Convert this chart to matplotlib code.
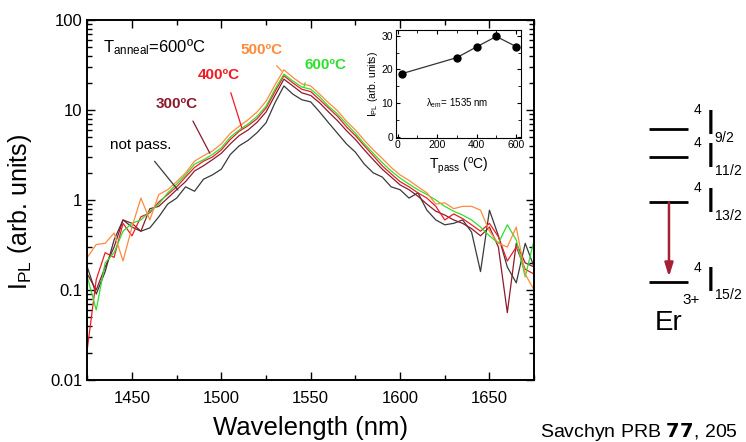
import numpy as np
import matplotlib.pyplot as plt
from matplotlib.ticker import FixedLocator, MultipleLocator, FuncFormatter, LogLocator, NullFormatter

plt.rcParams['font.family'] = ['Liberation Sans', 'DejaVu Sans']
plt.rcParams['mathtext.default'] = 'regular'

# PL spectra (5 nm steps)
wavelength = np.arange(1425, 1676, 5)

pl_not_pass = [0.18, 0.09, 0.16, 0.36, 0.6, 0.5, 0.45, 0.49, 0.65, 0.9,
               1.05, 1.4, 1.25, 1.7, 1.9, 2.2, 3.2, 4.0, 4.6, 5.6,
               7.2, 12, 18.5, 15, 13, 12.3, 9.5, 7.2, 5.5, 4.2,
               3.4, 2.5, 2.0, 1.8, 1.4, 1.3, 1.05, 1.2, 0.77, 0.6,
               0.53, 0.55, 0.6, 0.44, 0.16, 0.77, 0.4, 0.18, 0.12, 0.33, 0.18]
pl_300 = [0.15, 0.1, 0.18, 0.3, 0.6, 0.55, 0.45, 0.8, 0.85, 1.05,
          1.3, 1.6, 2.1, 2.4, 2.8, 3.3, 4.2, 5.2, 6.0, 7.3,
          9.5, 14.5, 22, 18.5, 15.5, 14.5, 12, 9.5, 7.6, 5.9,
          4.7, 3.6, 2.8, 2.2, 1.8, 1.47, 1.3, 1.1, 0.9, 0.75,
          0.68, 0.6, 0.55, 0.48, 0.4, 0.5, 0.3, 0.056, 0.33, 0.2, 0.18]
pl_400 = [0.022, 0.13, 0.26, 0.23, 0.55, 0.4, 0.65, 0.72, 0.95, 1.15,
          1.4, 1.8, 2.3, 2.7, 3.0, 3.6, 4.7, 5.8, 6.7, 8.0,
          10.5, 16, 24, 20, 17, 16, 13, 10.5, 8.5, 6.5,
          5.2, 4.0, 3.1, 2.4, 1.95, 1.6, 1.4, 1.2, 1.05, 0.85,
          0.6, 0.7, 0.62, 0.53, 0.45, 0.55, 0.39, 0.21, 0.3, 0.17, 0.15]
pl_500 = [0.23, 0.32, 0.33, 0.43, 0.21, 0.5, 1.05, 0.6, 1.15, 1.3,
          1.6, 2.0, 2.7, 3.1, 3.5, 4.2, 5.5, 6.6, 7.8, 9.5,
          12.5, 19, 28, 23, 19.5, 18.5, 15, 12, 9.8, 7.5,
          6.0, 4.6, 3.6, 2.9, 2.3, 1.9, 1.65, 1.4, 1.2, 0.9,
          0.93, 0.8, 0.85, 0.85, 0.77, 0.45, 0.33, 0.3, 0.5, 0.15, 0.1]
pl_600 = [0.14, 0.06, 0.2, 0.26, 0.45, 0.55, 0.6, 0.75, 0.9, 1.2,
          1.5, 1.9, 2.5, 2.8, 3.2, 3.8, 5.0, 6.0, 7.0, 8.5,
          11, 17, 25, 21, 18, 17, 14, 11, 9.0, 7.0,
          5.5, 4.2, 3.3, 2.6, 2.1, 1.75, 1.5, 1.3, 1.15, 1.0,
          0.85, 0.75, 0.68, 0.6, 0.5, 0.4, 0.33, 0.53, 0.36, 0.14, 0.36]

# inset: peak intensity vs passivation temperature
t_pass = [20, 300, 400, 500, 600]
i_peak = [18.7, 23.5, 26.7, 29.8, 26.8]

# Er3+ levels (cm-1)
level_names = ['15/2', '13/2', '11/2', '9/2']
level_energy = [0, 6500, 10200, 12500]

c_black = '#3a3a3a'
c_300 = '#8b1a2e'
c_400 = '#ee1c24'
c_500 = '#ff8a3c'
c_600 = '#2ee02e'

fig = plt.figure(figsize=(7.46, 4.42), dpi=100)

# main axes
ax = fig.add_axes([0.117, 0.1403, 0.599, 0.8145])
ax.plot(wavelength, pl_not_pass, color=c_black, lw=0.9)
ax.plot(wavelength, pl_300, color=c_300, lw=0.9)
ax.plot(wavelength, pl_400, color=c_400, lw=0.9)
ax.plot(wavelength, pl_600, color=c_600, lw=0.9)
ax.plot(wavelength, pl_500, color=c_500, lw=0.9)
ax.set_yscale('log')
ax.set_xlim(1425, 1675)
ax.set_ylim(0.01, 100)
ax.xaxis.set_major_locator(FixedLocator([1450, 1500, 1550, 1600, 1650]))
ax.xaxis.set_minor_locator(MultipleLocator(25))
ax.yaxis.set_major_locator(LogLocator(base=10))
ax.yaxis.set_minor_locator(LogLocator(base=10, subs=np.arange(2, 10)))
ax.yaxis.set_minor_formatter(NullFormatter())
ax.yaxis.set_major_formatter(FuncFormatter(lambda v, p: '%g' % v))
ax.tick_params(which='both', direction='in', top=True, right=True, labelsize=12, width=1)
ax.tick_params(which='major', length=6)
ax.tick_params(which='minor', length=3.5)
ax.tick_params(axis='x', pad=8)
for s in ax.spines.values():
    s.set_linewidth(1.4)
fig.text(311 / 746, 1 - 428 / 442, 'Wavelength (nm)', fontsize=18.5, ha='center', va='center')
fig.text(20 / 746, 1 - 212 / 442, 'I$_{PL}$ (arb. units)', fontsize=18, ha='center', va='center', rotation=90)

# labels with pointers
ax.text(1433.8, 50, 'T$_{anneal}$=600ºC', fontsize=12, ha='left', va='center')
ax.annotate('500ºC', xy=(1533.9, 27), xytext=(1522.3, 46.4), color=c_500, fontsize=11, fontweight='bold',
            ha='center', va='center', arrowprops=dict(arrowstyle='-', color=c_500, lw=0.9, shrinkA=6, shrinkB=0))
ax.annotate('600ºC', xy=(1546.2, 18), xytext=(1558, 31.6), color=c_600, fontsize=11, fontweight='bold',
            ha='center', va='center', arrowprops=dict(arrowstyle='-', color=c_600, lw=0.9, shrinkA=6, shrinkB=0,
                                                      relpos=(0.1, 0)))
ax.annotate('400ºC', xy=(1511.5, 6.3), xytext=(1498.7, 24.5), color=c_400, fontsize=11, fontweight='bold',
            ha='center', va='center', arrowprops=dict(arrowstyle='-', color=c_400, lw=0.9, shrinkA=6, shrinkB=0,
                                                      relpos=(0.7, 0)))
ax.annotate('300ºC', xy=(1493.6, 3.3), xytext=(1475.2, 11.7), color=c_300, fontsize=11, fontweight='bold',
            ha='center', va='center', arrowprops=dict(arrowstyle='-', color=c_300, lw=0.9, shrinkA=6, shrinkB=0,
                                                      relpos=(0.75, 0)))
ax.annotate('not pass.', xy=(1475.7, 1.29), xytext=(1455, 4.08), color='black', fontsize=11,
            ha='center', va='center', arrowprops=dict(arrowstyle='-', color=c_black, lw=0.9, shrinkA=6, shrinkB=0,
                                                      relpos=(0.6, 0)))

# inset
ins = fig.add_axes([0.5308, 0.6885, 0.1676, 0.2435])
ins.plot(t_pass, i_peak, color='#333333', lw=0.9, marker='o', ms=5, mfc='black', mec='black')
ins.set_xlim(-8, 625)
ins.set_ylim(-0.3, 31.7)
ins.xaxis.set_major_locator(MultipleLocator(200))
ins.xaxis.set_minor_locator(MultipleLocator(100))
ins.yaxis.set_major_locator(MultipleLocator(10))
ins.yaxis.set_minor_locator(MultipleLocator(5))
ins.tick_params(which='both', direction='in', top=True, right=True, labelsize=7.5, pad=2)
ins.tick_params(which='major', length=3)
ins.tick_params(which='minor', length=2)
ins.set_xlabel('T$_{pass}$ ($^o$C)', fontsize=10, labelpad=4)
ins.set_ylabel('I$_{PL}$ (arb. units)', fontsize=7.5, labelpad=1)
ins.text(300, 10, '$\\lambda_{em}$= 1535 nm', fontsize=7, ha='center', va='center')

# Er3+ energy level diagram
ed = fig.add_axes([630 / 746, 0.2308, 116 / 746, 0.543])
ed.set_xlim(0, 1)
ed.set_ylim(-4779, 14893)
ed.axis('off')
i_shift = [0, 0, 0, 3.5]   # small upward nudge of the top label (points)
for name, e, sh in zip(level_names, level_energy, i_shift):
    ed.plot([0.164, 0.5], [e, e], color='black', lw=2, solid_capstyle='butt')
    ed.annotate('$I$', xy=(0.645, e), xytext=(0, sh), textcoords='offset points', fontsize=25,
                ha='left', va='center')
    ed.annotate('$4$', xy=(0.62, e), xytext=(0, 10 + sh), textcoords='offset points', fontsize=10,
                ha='right', va='center')
    ed.annotate('$' + name + '$', xy=(0.72, e), xytext=(0, -9.5 + sh), textcoords='offset points', fontsize=10,
                ha='left', va='center')
ed.annotate('', xy=(0.336, level_energy[0] + 400), xytext=(0.336, level_energy[1]),
            arrowprops=dict(arrowstyle='-|>,head_width=0.25,head_length=0.8', color='#a52035', lw=1.8,
                            shrinkA=0, shrinkB=0))
ed.text(0.216, -3959, 'Er', fontsize=20, ha='left', va='baseline')
ed.text(0.455, -1500, '3+', fontsize=11, ha='left', va='center')

fig.text(540 / 746, 1 - 432 / 442, 'Savchyn PRB $\\mathbf{77}$, 205', fontsize=14, ha='left', va='center')

fig.savefig('out.png', dpi=100)
